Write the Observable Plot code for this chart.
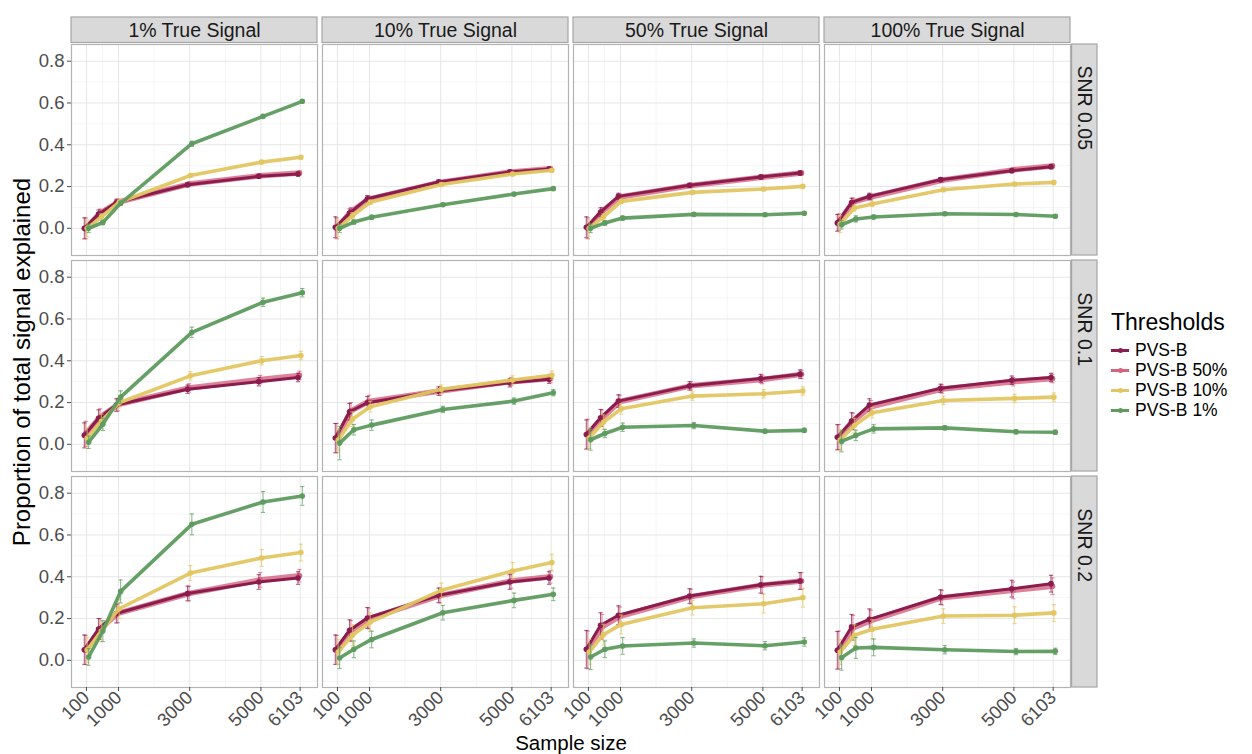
<!DOCTYPE html>
<html><head><meta charset="utf-8">
<script src="https://cdn.jsdelivr.net/npm/d3@7"></script>
<script src="https://cdn.jsdelivr.net/npm/@observablehq/plot@0.6"></script>
<style>
body{margin:0;background:#fff;font-family:"Liberation Sans",Arial,Helvetica,sans-serif;}
#wrap{position:relative;width:1252px;height:754px;overflow:hidden;}
#chart{position:absolute;left:0;top:0;}
.ylab{position:absolute;left:22px;top:362px;transform:translate(-50%,-50%) rotate(-90deg);white-space:nowrap;font-size:24px;color:#000;}
.xlab{position:absolute;left:571px;top:743px;transform:translate(-50%,-50%);white-space:nowrap;font-size:20.5px;color:#000;}
#legend{position:absolute;left:1111px;top:308px;}
#legend .title{font-size:23px;color:#000;height:28px;line-height:28px;margin-bottom:4px;}
#legend .item{display:flex;align-items:center;height:20px;font-size:17.5px;color:#000;}
#legend .key{position:relative;width:18px;height:20px;margin-right:6px;}
#legend .key .ln{position:absolute;left:0;top:8.5px;width:18px;height:3px;}
#legend .key .dt{position:absolute;left:6.5px;top:7.5px;width:5px;height:5px;border-radius:50%;}
</style></head><body>
<div id="wrap"><div id="chart"></div>
<div class="ylab">Proportion of total signal explained</div>
<div class="xlab">Sample size</div>
<div id="legend"></div>
</div>
<script>
const sampleSizes = [100, 500, 1000, 3000, 5000, 6103];
const xTicks = [100, 1000, 3000, 5000, 6103];
const xMinor = [550, 2000, 4000, 5551.5];
const yTicks = [0, 0.2, 0.4, 0.6, 0.8];
const yMinor = [-0.1, 0.1, 0.3, 0.5, 0.7];
const signals = ["1% True Signal", "10% True Signal", "50% True Signal", "100% True Signal"];
const snrs = ["SNR 0.05", "SNR 0.1", "SNR 0.2"];
const thresholds = ["PVS-B", "PVS-B 50%", "PVS-B 10%", "PVS-B 1%"];
const colors = ["#8b1c4e", "#d4637f", "#e2c661", "#5e9b5f"];

// One row per panel: SNR 0.05 (1%,10%,50%,100%), SNR 0.1 (...), SNR 0.2 (...)
const valPVSB = [
  [0.000,0.068,0.124,0.209,0.249,0.260],[0.005,0.073,0.142,0.222,0.270,0.284],[0.005,0.078,0.153,0.206,0.246,0.265],[0.026,0.124,0.153,0.233,0.276,0.295],
  [0.043,0.125,0.188,0.264,0.300,0.320],[0.030,0.156,0.199,0.255,0.295,0.312],[0.047,0.127,0.207,0.280,0.315,0.336],[0.034,0.111,0.188,0.268,0.307,0.320],
  [0.051,0.150,0.224,0.320,0.375,0.394],[0.051,0.144,0.203,0.311,0.375,0.394],[0.053,0.168,0.216,0.308,0.362,0.380],[0.048,0.160,0.196,0.303,0.343,0.367]
];
const valPVSB50 = [
  [0.000,0.072,0.125,0.212,0.252,0.265],[0.000,0.080,0.140,0.220,0.270,0.285],[0.000,0.080,0.150,0.205,0.245,0.265],[0.030,0.125,0.150,0.230,0.280,0.298],
  [0.050,0.130,0.190,0.270,0.310,0.330],[0.030,0.160,0.205,0.255,0.300,0.315],[0.050,0.125,0.205,0.280,0.310,0.335],[0.035,0.110,0.180,0.265,0.300,0.315],
  [0.050,0.150,0.225,0.320,0.385,0.405],[0.050,0.140,0.200,0.310,0.380,0.400],[0.050,0.160,0.210,0.305,0.360,0.380],[0.050,0.155,0.190,0.300,0.335,0.355]
];
const valPVSB10 = [
  [0.000,0.055,0.125,0.253,0.317,0.340],[0.000,0.060,0.125,0.210,0.260,0.278],[0.000,0.055,0.129,0.172,0.188,0.201],[0.020,0.097,0.116,0.185,0.212,0.220],
  [0.030,0.110,0.199,0.328,0.400,0.425],[0.020,0.120,0.180,0.264,0.308,0.331],[0.030,0.106,0.170,0.231,0.242,0.255],[0.020,0.090,0.151,0.210,0.220,0.226],
  [0.050,0.140,0.247,0.418,0.490,0.516],[0.040,0.120,0.183,0.335,0.428,0.468],[0.040,0.123,0.172,0.252,0.271,0.300],[0.040,0.120,0.149,0.212,0.216,0.227]
];
const valPVSB1 = [
  [0.000,0.028,0.120,0.405,0.536,0.608],[0.000,0.030,0.053,0.113,0.164,0.190],[0.000,0.026,0.049,0.067,0.065,0.072],[0.017,0.045,0.054,0.070,0.066,0.058],
  [0.010,0.096,0.226,0.536,0.680,0.726],[0.006,0.070,0.092,0.167,0.207,0.247],[0.022,0.052,0.082,0.090,0.063,0.067],[0.014,0.043,0.074,0.079,0.060,0.058],
  [0.016,0.140,0.330,0.651,0.758,0.787],[0.011,0.053,0.100,0.228,0.287,0.316],[0.016,0.053,0.069,0.083,0.070,0.088],[0.013,0.059,0.062,0.051,0.042,0.043]
];
// Half-widths of the error bars, same layout
const errPVSB = [
  [0.05,0.02,0.015,0.01,0.01,0.01],[0.05,0.02,0.015,0.01,0.01,0.01],[0.05,0.02,0.015,0.01,0.01,0.01],[0.04,0.02,0.015,0.01,0.01,0.01],
  [0.06,0.04,0.03,0.02,0.02,0.02],[0.07,0.04,0.03,0.02,0.02,0.02],[0.07,0.04,0.03,0.02,0.02,0.02],[0.06,0.04,0.03,0.02,0.02,0.02],
  [0.07,0.05,0.045,0.035,0.035,0.03],[0.07,0.05,0.05,0.035,0.035,0.03],[0.09,0.06,0.045,0.035,0.04,0.04],[0.09,0.06,0.05,0.035,0.04,0.04]
];
const errPVSB50 = errPVSB;
const errPVSB10 = [
  [0.04,0.015,0.01,0.008,0.008,0.008],[0.04,0.015,0.01,0.008,0.008,0.008],[0.04,0.015,0.01,0.008,0.008,0.008],[0.04,0.015,0.01,0.008,0.008,0.008],
  [0.05,0.035,0.025,0.02,0.02,0.02],[0.05,0.035,0.025,0.02,0.02,0.02],[0.05,0.035,0.025,0.02,0.02,0.02],[0.05,0.035,0.025,0.02,0.02,0.02],
  [0.06,0.05,0.045,0.035,0.04,0.04],[0.06,0.05,0.045,0.035,0.04,0.04],[0.06,0.05,0.045,0.035,0.045,0.045],[0.06,0.05,0.045,0.035,0.04,0.04]
];
const errPVSB1 = [
  [0.02,0.01,0.01,0.012,0.008,0.008],[0.02,0.01,0.01,0.008,0.008,0.008],[0.02,0.01,0.01,0.008,0.008,0.008],[0.02,0.015,0.01,0.008,0.008,0.008],
  [0.03,0.03,0.03,0.025,0.02,0.02],[0.08,0.025,0.025,0.015,0.015,0.015],[0.05,0.02,0.02,0.015,0.01,0.01],[0.05,0.025,0.02,0.01,0.01,0.01],
  [0.04,0.05,0.055,0.05,0.05,0.045],[0.05,0.04,0.04,0.035,0.035,0.03],[0.06,0.04,0.04,0.02,0.02,0.02],[0.06,0.05,0.04,0.02,0.015,0.015]
];

const seriesValues = [valPVSB, valPVSB50, valPVSB10, valPVSB1];
const seriesErrors = [errPVSB, errPVSB50, errPVSB10, errPVSB1];
const dodge = [-60, -20, 20, 60];

const rows = [];
thresholds.forEach((t, s) => {
  snrs.forEach((snr, r) => {
    signals.forEach((sig, c) => {
      const p = r * signals.length + c;
      sampleSizes.forEach((n, i) => {
        const v = seriesValues[s][p][i], e = seriesErrors[s][p][i];
        rows.push({threshold: t, snr, signal: sig, n, x: n + dodge[s], y: v, lo: v - e, hi: v + e});
      });
    });
  });
});

const W = 1252, H = 754, mL = 71, mR = 181, mT = 43, mB = 66;
const fxPad = 0.018, fyPad = 0.024;
const fxBand = (W - mL - mR) / (signals.length - fxPad) * (1 - fxPad);
const fyBand = (H - mT - mB) / (snrs.length - fyPad) * (1 - fyPad);

const topStrips = signals.map(s => ({signal: s, snr: snrs[0]}));
const rightStrips = snrs.map(r => ({signal: signals[signals.length - 1], snr: r}));

const drawOrder = [1, 0, 2, 3];
const widths = [3, 5.5, 3.6, 3.6];
const lineOpacity = [1, 0.8, 0.95, 0.95];

const marks = [
  Plot.gridX({ticks: xMinor, stroke: "#f2f2f2", strokeOpacity: 1, strokeWidth: 0.8}),
  Plot.gridY({ticks: yMinor, stroke: "#f2f2f2", strokeOpacity: 1, strokeWidth: 0.8}),
  Plot.gridX({ticks: xTicks, stroke: "#e6e6e6", strokeOpacity: 1, strokeWidth: 1}),
  Plot.gridY({ticks: yTicks, stroke: "#e6e6e6", strokeOpacity: 1, strokeWidth: 1}),
  Plot.frame({stroke: "#b3b3b3", strokeWidth: 1.2}),
  Plot.rect(topStrips, {fx: "signal", fy: "snr", fill: "#d9d9d9", stroke: "#a6a6a6", strokeWidth: 1.2,
    insetTop: -27, insetBottom: fyBand + 1}),
  Plot.text(topStrips, {fx: "signal", fy: "snr", text: "signal", frameAnchor: "top", lineAnchor: "middle", dy: -14,
    fontSize: 19.5, fill: "#1a1a1a"}),
  Plot.rect(rightStrips, {fx: "signal", fy: "snr", fill: "#d9d9d9", stroke: "#a6a6a6", strokeWidth: 1.2,
    insetRight: -27, insetLeft: fxBand + 1}),
  Plot.text(rightStrips, {fx: "signal", fy: "snr", text: "snr", frameAnchor: "right", dx: 14, rotate: 90,
    fontSize: 19.5, fill: "#1a1a1a"})
];

drawOrder.forEach(s => {
  const data = rows.filter(d => d.threshold === thresholds[s]);
  marks.push(
    Plot.ruleX(data, {fx: "signal", fy: "snr", x: "x", y1: "lo", y2: "hi", stroke: colors[s], strokeOpacity: 0.7, strokeWidth: 1.1}),
    Plot.link(data, {fx: "signal", fy: "snr", x1: d => d.x - 60, x2: d => d.x + 60, y1: "lo", y2: "lo", stroke: colors[s], strokeOpacity: 0.7, strokeWidth: 1.1}),
    Plot.link(data, {fx: "signal", fy: "snr", x1: d => d.x - 60, x2: d => d.x + 60, y1: "hi", y2: "hi", stroke: colors[s], strokeOpacity: 0.7, strokeWidth: 1.1}),
    Plot.line(data, {fx: "signal", fy: "snr", x: "x", y: "y", stroke: colors[s], strokeWidth: widths[s], strokeOpacity: lineOpacity[s]}),
    Plot.dot(data, {fx: "signal", fy: "snr", x: "x", y: "y", r: 2.8, fill: colors[s], fillOpacity: lineOpacity[s]})
  );
});

marks.push(
  Plot.axisY({ticks: yTicks, tickFormat: d3.format(".1f"), tickSize: 4, tickPadding: 3, fontSize: 18.5, color: "#4d4d4d", label: null}),
  Plot.axisX({ticks: xTicks, tickFormat: d => String(d), tickSize: 4, tickPadding: 3, tickRotate: -45, fontSize: 18.5, color: "#4d4d4d", label: null})
);

const chart = Plot.plot({
  width: W, height: H,
  marginLeft: mL, marginRight: mR, marginTop: mT, marginBottom: mB,
  style: {fontFamily: '"Liberation Sans", Arial, sans-serif', background: "white"},
  fx: {domain: signals, axis: null, paddingInner: fxPad, paddingOuter: 0},
  fy: {domain: snrs, axis: null, paddingInner: fyPad, paddingOuter: 0},
  x: {domain: [-320, 6590]},
  y: {domain: [-0.13, 0.88]},
  marks
});
document.getElementById("chart").appendChild(chart);

const legend = document.getElementById("legend");
const title = document.createElement("div");
title.className = "title"; title.textContent = "Thresholds";
legend.appendChild(title);
thresholds.forEach((t, i) => {
  const item = document.createElement("div"); item.className = "item";
  const key = document.createElement("div"); key.className = "key";
  const ln = document.createElement("div"); ln.className = "ln"; ln.style.background = colors[i];
  const dt = document.createElement("div"); dt.className = "dt"; dt.style.background = colors[i];
  key.appendChild(ln); key.appendChild(dt);
  const lab = document.createElement("span"); lab.textContent = t;
  item.appendChild(key); item.appendChild(lab);
  legend.appendChild(item);
});
</script>
</body></html>
